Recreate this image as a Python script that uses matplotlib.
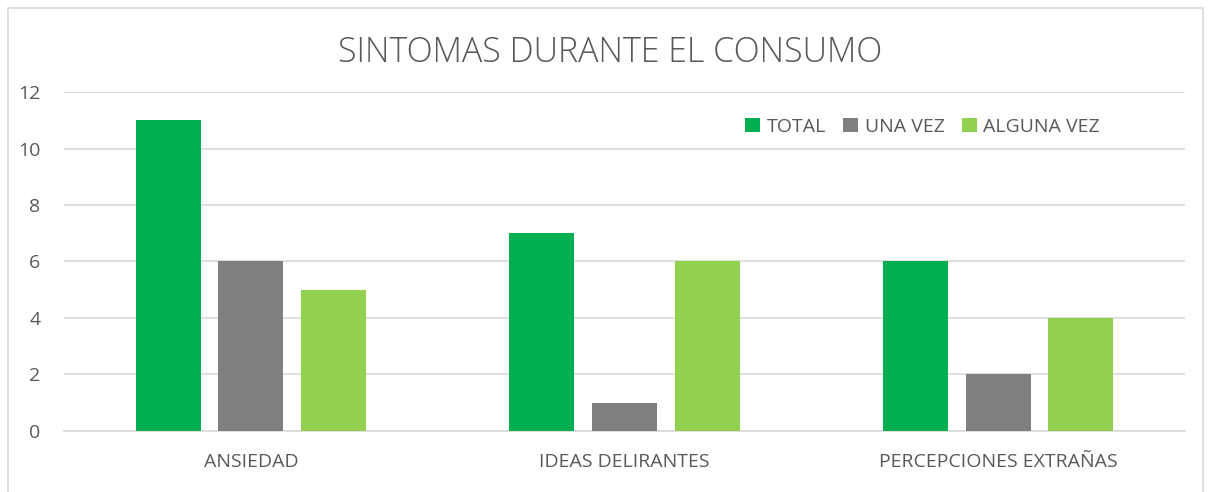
import numpy as np
import matplotlib.pyplot as plt
from matplotlib.patches import Rectangle

categories = ["ANSIEDAD", "IDEAS DELIRANTES", "PERCEPCIONES EXTRAÑAS"]
total = [11, 7, 6]
una_vez = [6, 1, 2]
alguna_vez = [5, 6, 4]

series = [("TOTAL", total, "#00B050"),
          ("UNA VEZ", una_vez, "#7F7F7F"),
          ("ALGUNA VEZ", alguna_vez, "#92D050")]

plt.rcParams["font.family"] = ["Open Sans", "DejaVu Sans"]

fig = plt.figure(figsize=(12.09, 4.92), dpi=100)
ax = fig.add_axes([0.053, 0.124, 0.927, 0.689])

x = np.arange(len(categories))
width = 0.174
offset = 0.221
for i, (name, vals, color) in enumerate(series):
    ax.bar(x + (i - 1) * offset, vals, width, color=color, label=name, zorder=3)

ax.set_xlim(-0.5, 2.5)
ax.set_ylim(0, 12)
ax.set_yticks(range(0, 13, 2))
ax.yaxis.grid(True, color="#D9D9D9", linewidth=1.2, zorder=0)
ax.set_xticks(x)
ax.set_xticklabels(categories)
ax.tick_params(axis="x", length=0, labelsize=14, colors="#595959", pad=16)
ax.tick_params(axis="y", length=0, labelsize=14, colors="#595959", pad=17)
for side in ["top", "right", "left"]:
    ax.spines[side].set_visible(False)
ax.spines["bottom"].set_color("#D9D9D9")
ax.spines["bottom"].set_linewidth(1.2)

fig.text(0.505, 0.893, "SINTOMAS DURANTE EL CONSUMO", ha="center", va="center",
         fontsize=24.5, color="#595959", fontweight="light")

ax.legend(loc="upper right", bbox_to_anchor=(0.94, 0.975), ncol=3, frameon=False,
          fontsize=14, labelcolor="#595959", handlelength=0.75, handleheight=0.75,
          handletextpad=0.35, columnspacing=0.9)

fig.patches.append(Rectangle((8 / 1209, -0.01), 1195 / 1209, 1 - 8 / 492 + 0.01,
                             transform=fig.transFigure, fill=False,
                             edgecolor="#D9D9D9", linewidth=1.2))

fig.savefig("out.png", dpi=100)
